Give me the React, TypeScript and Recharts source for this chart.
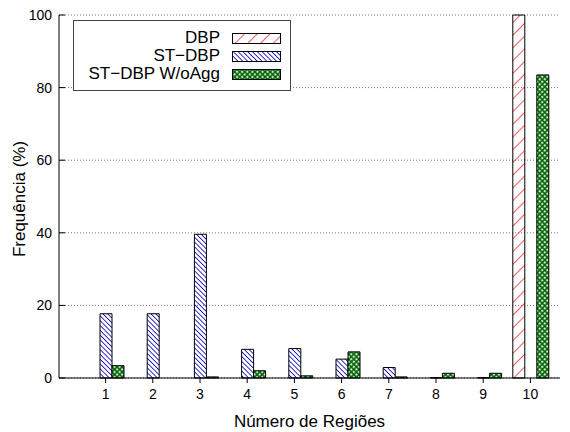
import React from 'react';
import { BarChart, Bar, XAxis, YAxis, CartesianGrid, Legend } from 'recharts';

// Number of regions (x categories)
const regions = ['1', '2', '3', '4', '5', '6', '7', '8', '9', '10'];
// Frequency (%) per series
const dbp = [0, 0, 0, 0, 0, 0, 0, 0, 0, 100];
const stDbp = [17.7, 17.7, 39.6, 7.9, 8.1, 5.2, 2.9, 0.1, 0.1, 0];
const stDbpNoAgg = [3.4, 0, 0.3, 2.0, 0.6, 7.2, 0.3, 1.3, 1.3, 83.5];
const yTicks = [0, 20, 40, 60, 80, 100];

const SERIES = [
    { key: 'dbp', name: 'DBP', fill: 'url(#patDBP)' },
    { key: 'st', name: 'ST\u2212DBP', fill: 'url(#patST)' },
    { key: 'agg', name: 'ST\u2212DBP W/oAgg', fill: 'url(#patAgg)' },
];

const data = regions.map((r, i) => ({ region: r, dbp: dbp[i], st: stDbp[i], agg: stDbpNoAgg[i] }));

const FONT = '"Liberation Sans", Arial, Helvetica, sans-serif';

const LegendBox = () => (
    <div style={{
        width: 218, height: 71, border: '1px solid #444', background: '#fff',
        fontFamily: FONT, fontSize: 17, color: '#000', boxSizing: 'border-box', paddingTop: 8,
    }}>
        {SERIES.map(s => (
            <div key={s.key} style={{ display: 'flex', alignItems: 'center', justifyContent: 'flex-end', height: 18, paddingRight: 9 }}>
                <span style={{ marginRight: 12, lineHeight: '18px' }}>{s.name}</span>
                <svg width={49} height={11} style={{ display: 'block' }}>
                    <rect x={0.5} y={0.5} width={48} height={10} fill={s.fill} stroke="#000" strokeWidth={1} />
                </svg>
            </div>
        ))}
    </div>
);

const App: React.FC = () => {
    return (
        <div style={{ position: 'absolute', left: 0, top: 0, width: 570, height: 432, background: '#fff' }}>
            <BarChart
                width={570}
                height={432}
                data={data}
                barSize={12}
                barGap={0}
                margin={{ top: 15, right: 10, left: 0, bottom: 0 }}
                style={{ fontFamily: FONT }}
            >
                <defs>
                    <pattern id="patDBP" patternUnits="userSpaceOnUse" width={9} height={9} patternTransform="rotate(45)">
                        <line x1={0} y1={0} x2={0} y2={9} stroke="#f00000" strokeWidth={1.3} />
                    </pattern>
                    <pattern id="patST" patternUnits="userSpaceOnUse" width={3.4} height={3.4} patternTransform="rotate(-45)">
                        <line x1={0} y1={0} x2={0} y2={3.4} stroke="#0000b4" strokeWidth={1.6} />
                    </pattern>
                    <pattern id="patAgg" patternUnits="userSpaceOnUse" width={3.6} height={3.6} patternTransform="rotate(45)">
                        <rect x={0} y={0} width={3.6} height={3.6} fill="#006400" />
                        <rect x={1.1} y={1.1} width={1.9} height={1.9} fill="#ffffff" />
                    </pattern>
                </defs>
                <CartesianGrid vertical={false} stroke="#777" strokeDasharray="1 2" />
                <XAxis
                    dataKey="region"
                    height={54}
                    padding={{ left: 23, right: 6 }}
                    tickSize={5}
                    tickMargin={6}
                    axisLine={{ stroke: '#000' }}
                    tickLine={{ stroke: '#000' }}
                    tick={{ fill: '#000', fontSize: 14 }}
                    label={({ viewBox }: any) => (
                        <text x={viewBox.x + viewBox.width / 2} y={427} textAnchor="middle" fontSize={17} fill="#000" fontFamily={FONT}>
                            Número de Regiões
                        </text>
                    )}
                />
                <XAxis
                    xAxisId="top"
                    dataKey="region"
                    orientation="top"
                    height={0}
                    padding={{ left: 23, right: 6 }}
                    tickSize={5}
                    tick={false}
                    axisLine={{ stroke: '#000' }}
                    tickLine={{ stroke: '#000' }}
                />
                <YAxis
                    width={59}
                    domain={[0, 100]}
                    ticks={yTicks}
                    tickSize={-6}
                    tickMargin={13}
                    axisLine={{ stroke: '#000' }}
                    tickLine={{ stroke: '#000' }}
                    tick={{ fill: '#000', fontSize: 14 }}
                    label={() => (
                        <text x={19} y={199} transform="rotate(-90 19 199)" textAnchor="middle" dominantBaseline="central" fontSize={17} fill="#000" fontFamily={FONT}>
                            Frequência (%)
                        </text>
                    )}
                />
                <Legend
                    layout="vertical"
                    align="center"
                    verticalAlign="middle"
                    wrapperStyle={{ left: 73, top: 20, width: 218 }}
                    content={() => <LegendBox />}
                />
                {SERIES.map(s => (
                    <Bar
                        key={s.key}
                        dataKey={s.key}
                        name={s.name}
                        fill={s.fill}
                        stroke="#000"
                        strokeWidth={1}
                        isAnimationActive={false}
                    />
                ))}
            </BarChart>
        </div>
    );
};

export default App;
